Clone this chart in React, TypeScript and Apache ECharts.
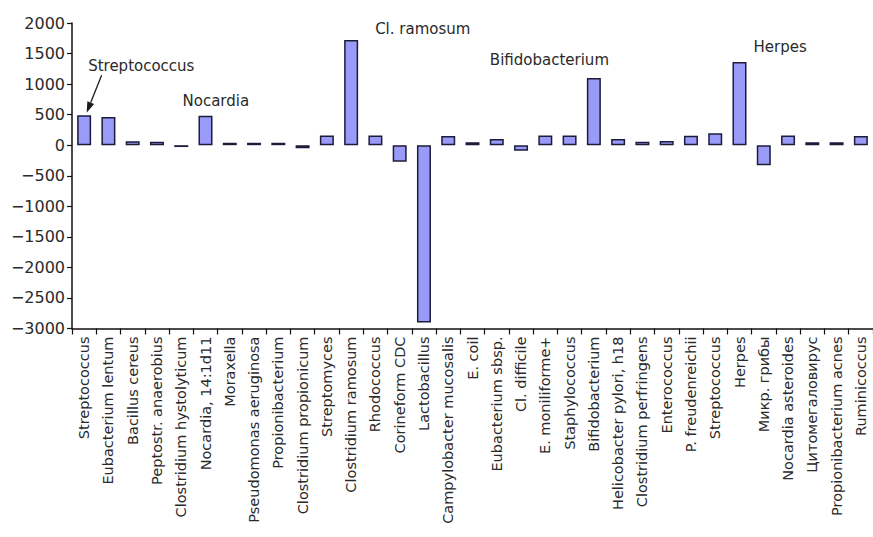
import React, { useEffect, useRef } from "react";
import * as echarts from "echarts";

// Organisms along the horizontal axis
const categories = [
  "Streptococcus",
  "Eubacterium lentum",
  "Bacillus cereus",
  "Peptostr. anaerobius",
  "Clostridium hystolyticum",
  "Nocardia, 14:1d11",
  "Moraxella",
  "Pseudomonas aeruginosa",
  "Propionibacterium",
  "Clostridium propionicum",
  "Streptomyces",
  "Clostridium ramosum",
  "Rhodococcus",
  "Corineform CDC",
  "Lactobacillus",
  "Campylobacter mucosalis",
  "E. coil",
  "Eubacterium sbsp.",
  "Cl. difficile",
  "E. moniliforme+",
  "Staphylococcus",
  "Bifidobacterium",
  "Helicobacter pylori, h18",
  "Clostridium perfringens",
  "Enterococcus",
  "P. freudenreichii",
  "Streptococcus ",
  "Herpes",
  "Микр. грибы",
  "Nocardia asteroides",
  "Цитомегаловирус",
  "Propionibacterium acnes",
  "Ruminicoccus",
];

// Change relative to baseline for each organism
const values = [
  490, 460, 65, 55, -30, 480, 40, 40, 40, -50, 160, 1720, 160, -270, -2900,
  150, 50, 100, -90, 160, 160, 1100, 100, 55, 70, 155, 195, 1360, -330, 160,
  50, 50, 150,
];

// Value axis ticks
const yMin = -3000;
const yMax = 2000;
const yStep = 500;

// Category drawn in the accent colour
const accentCategory = "E. coil";

// Callouts: caption and the category index it points at
const callouts = [
  { text: "Streptococcus", index: 0 },
  { text: "Nocardia", index: 5 },
  { text: "Cl. ramosum", index: 11 },
  { text: "Bifidobacterium", index: 21 },
  { text: "Herpes", index: 27 },
];

const FONT = "DejaVu Sans";
const INK = "#2a2a2a";

export default function App() {
  const ref = useRef<HTMLDivElement>(null);

  useEffect(() => {
    if (!ref.current) return;
    const chart = echarts.init(ref.current, null, { renderer: "svg" });

    const data = values.map((v, i) =>
      categories[i] === accentCategory
        ? { value: v, itemStyle: { color: "#3b7d3b" } }
        : v
    );

    chart.setOption({
      animation: false,
      backgroundColor: "#ffffff",
      grid: { left: 72, top: 23, width: 807, height: 305.5 },
      xAxis: {
        type: "category",
        data: categories,
        axisLine: { onZero: false, lineStyle: { color: "#111", width: 1.5 } },
        axisTick: { show: true, interval: 0, length: 6, lineStyle: { color: "#111", width: 1.2 } },
        axisLabel: {
          interval: 0,
          rotate: 90,
          margin: 8,
          fontFamily: FONT,
          fontSize: 14.5,
          color: INK,
          formatter: (s: string) => s.trim(),
        },
      },
      yAxis: {
        type: "value",
        min: yMin,
        max: yMax,
        interval: yStep,
        splitLine: { show: false },
        axisLine: { show: true, lineStyle: { color: "#111", width: 1.5 } },
        axisTick: { show: true, length: 5, lineStyle: { color: "#111", width: 1.2 } },
        axisLabel: {
          margin: 7,
          fontFamily: FONT,
          fontSize: 16,
          color: INK,
          formatter: (v: number) => (v < 0 ? "\u2212" + Math.abs(v) : String(v)),
        },
      },
      series: [
        {
          type: "bar",
          data,
          barWidth: 14,
          itemStyle: { color: "#9a9af8", borderColor: "#1c1c3a", borderWidth: 1.5 },
        },
      ],
    });

    // Place callout captions relative to the tops of the bars they name
    const top = (i: number) =>
      chart.convertToPixel({ seriesIndex: 0 }, [i, values[i]]) as number[];

    const offsets: Record<number, [number, number]> = {
      0: [4, -49],
      5: [-23, -15],
      11: [24, -11],
      21: [-104, -18],
      27: [14, -15],
    };

    const graphics: any[] = callouts.map((c) => {
      const p = top(c.index);
      const [dx, dy] = offsets[c.index];
      return {
        type: "text",
        x: p[0] + dx,
        y: p[1] + dy,
        style: {
          text: c.text,
          fontFamily: FONT,
          fontSize: 15,
          fill: INK,
          textAlign: "left",
          textVerticalAlign: "middle",
        },
      };
    });

    // Arrow from the first caption down to its bar
    const p0 = top(0);
    const tip = [p0[0] + 2.5, p0[1] - 2.5];
    const start = [p0[0] + 17.5, p0[1] - 40];
    const vx = tip[0] - start[0];
    const vy = tip[1] - start[1];
    const len = Math.hypot(vx, vy);
    const ux = vx / len;
    const uy = vy / len;
    const headLen = 11;
    const headHalf = 3.6;
    const bx = tip[0] - ux * headLen;
    const by = tip[1] - uy * headLen;
    graphics.push({
      type: "line",
      shape: { x1: start[0], y1: start[1], x2: bx, y2: by },
      style: { stroke: "#1a1a1a", lineWidth: 1.3 },
    });
    graphics.push({
      type: "polygon",
      shape: {
        points: [
          tip,
          [bx - uy * headHalf, by + ux * headHalf],
          [bx + uy * headHalf, by - ux * headHalf],
        ],
      },
      style: { fill: "#1a1a1a" },
    });

    chart.setOption({ graphic: graphics });

    return () => chart.dispose();
  }, []);

  return (
    <div
      ref={ref}
      style={{ position: "fixed", left: 0, top: 0, width: 873, height: 537 }}
    />
  );
}
